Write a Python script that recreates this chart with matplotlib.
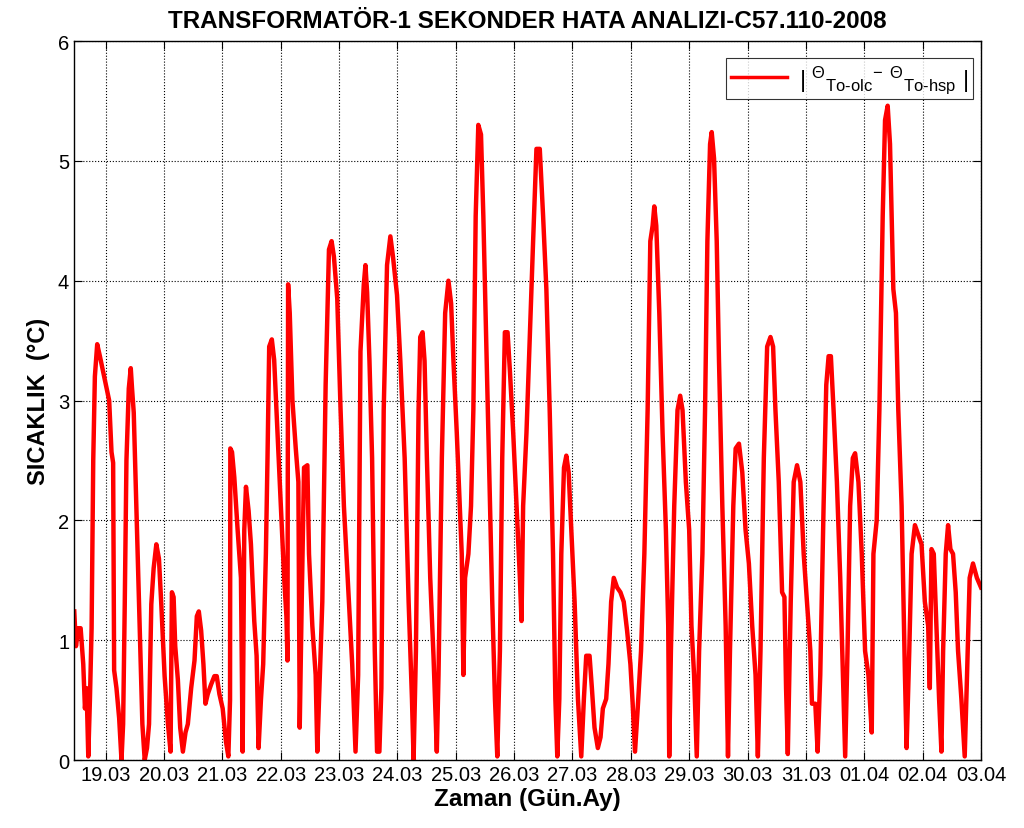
# -*- coding: utf-8 -*-
# Transformator-1 sekonder hata analizi grafigi
import matplotlib
matplotlib.use("Agg")
import matplotlib.pyplot as plt

# Zaman ekseni: Mart gunu (32 = 01.04, 33 = 02.04, 34 = 03.04)
zaman = [
    18.464, 18.493, 18.533, 18.573, 18.618, 18.647, 18.675, 18.704, 18.732, 18.761,
    18.789, 18.817, 18.857, 18.903, 18.988, 19.062, 19.102, 19.130, 19.147, 19.187,
    19.233, 19.273, 19.301, 19.329, 19.358, 19.398, 19.432, 19.454, 19.483, 19.528,
    19.585, 19.631, 19.671, 19.710, 19.745, 19.784, 19.824, 19.870, 19.915, 19.955,
    20.012, 20.069, 20.114, 20.137, 20.166, 20.194, 20.239, 20.279, 20.325, 20.370,
    20.410, 20.467, 20.524, 20.564, 20.598, 20.638, 20.677, 20.712, 20.751, 20.808,
    20.865, 20.905, 20.951, 21.007, 21.064, 21.104, 21.133, 21.138, 21.167, 21.206,
    21.263, 21.320, 21.349, 21.377, 21.406, 21.451, 21.491, 21.548, 21.588, 21.622,
    21.662, 21.701, 21.747, 21.775, 21.804, 21.849, 21.889, 21.946, 22.003, 22.060,
    22.099, 22.117, 22.128, 22.156, 22.202, 22.259, 22.304, 22.327, 22.361, 22.401,
    22.458, 22.486, 22.543, 22.600, 22.628, 22.714, 22.771, 22.828, 22.873, 22.913,
    22.970, 23.027, 23.084, 23.169, 23.226, 23.283, 23.328, 23.368, 23.425, 23.453,
    23.482, 23.522, 23.567, 23.613, 23.652, 23.692, 23.726, 23.766, 23.823, 23.880,
    23.925, 23.994, 24.051, 24.125, 24.193, 24.250, 24.278, 24.318, 24.363, 24.392,
    24.432, 24.466, 24.506, 24.563, 24.619, 24.676, 24.705, 24.762, 24.819, 24.875,
    24.921, 24.961, 25.018, 25.103, 25.131, 25.160, 25.217, 25.262, 25.302, 25.342,
    25.387, 25.433, 25.473, 25.512, 25.569, 25.626, 25.672, 25.712, 25.757, 25.797,
    25.842, 25.888, 25.928, 25.985, 26.042, 26.099, 26.127, 26.155, 26.212, 26.269,
    26.326, 26.383, 26.440, 26.497, 26.553, 26.610, 26.667, 26.707, 26.740, 26.775,
    26.809, 26.855, 26.895, 26.935, 26.980, 27.037, 27.094, 27.151, 27.196, 27.236,
    27.293, 27.333, 27.378, 27.435, 27.481, 27.521, 27.578, 27.617, 27.663, 27.708,
    27.765, 27.822, 27.879, 27.936, 27.993, 28.032, 28.072, 28.118, 28.175, 28.232,
    28.288, 28.334, 28.374, 28.402, 28.436, 28.488, 28.544, 28.601, 28.641, 28.658,
    28.687, 28.744, 28.800, 28.846, 28.886, 28.943, 29.000, 29.039, 29.084, 29.130,
    29.170, 29.227, 29.272, 29.312, 29.358, 29.386, 29.426, 29.472, 29.511, 29.568,
    29.625, 29.665, 29.699, 29.756, 29.796, 29.853, 29.910, 29.966, 30.023, 30.080,
    30.137, 30.177, 30.222, 30.279, 30.336, 30.393, 30.438, 30.478, 30.535, 30.592,
    30.632, 30.660, 30.690, 30.740, 30.791, 30.848, 30.905, 30.962, 31.019, 31.076,
    31.104, 31.161, 31.201, 31.246, 31.303, 31.349, 31.389, 31.428, 31.474, 31.531,
    31.588, 31.645, 31.673, 31.713, 31.758, 31.804, 31.843, 31.900, 31.957, 32.014,
    32.071, 32.128, 32.157, 32.213, 32.259, 32.316, 32.356, 32.401, 32.441, 32.469,
    32.498, 32.543, 32.583, 32.640, 32.697, 32.725, 32.771, 32.811, 32.868, 32.925,
    32.981, 33.038, 33.095, 33.123, 33.152, 33.191, 33.237, 33.282, 33.322, 33.351,
    33.396, 33.436, 33.476, 33.521, 33.567, 33.607, 33.664, 33.721, 33.761, 33.806,
    33.863, 33.930, 34.000,
]

# |Theta_To-olc - Theta_To-hsp| (C)
fark = [
    1.24, 0.95, 1.10, 1.10, 0.80, 0.43, 0.60, 0.03, 0.50, 1.10,
    2.50, 3.20, 3.47, 3.37, 3.17, 3.00, 2.57, 2.48, 0.75, 0.60,
    0.35, 0.00, 0.30, 1.30, 2.50, 3.10, 3.27, 3.10, 2.90, 2.10,
    1.10, 0.30, 0.00, 0.10, 0.30, 1.30, 1.60, 1.80, 1.68, 1.30,
    0.70, 0.30, 0.07, 1.40, 1.36, 0.95, 0.67, 0.27, 0.07, 0.23,
    0.30, 0.60, 0.83, 1.20, 1.24, 1.08, 0.80, 0.47, 0.55, 0.63,
    0.70, 0.70, 0.55, 0.43, 0.15, 0.03, 0.50, 2.60, 2.57, 2.36,
    1.92, 1.52, 0.07, 1.92, 2.28, 2.08, 1.80, 1.16, 0.87, 0.10,
    0.50, 0.80, 1.72, 2.52, 3.45, 3.51, 3.34, 2.73, 2.12, 1.52,
    1.20, 0.83, 3.97, 3.73, 3.00, 2.60, 2.32, 0.27, 1.32, 2.44,
    2.46, 1.72, 1.12, 0.71, 0.07, 1.32, 3.13, 4.26, 4.33, 4.20,
    3.85, 2.92, 2.12, 1.32, 0.80, 0.07, 0.71, 3.41, 3.97, 4.13,
    3.90, 3.33, 2.52, 0.91, 0.07, 0.07, 0.60, 2.92, 4.13, 4.37,
    4.20, 3.88, 3.33, 2.52, 1.32, 0.51, 0.00, 0.91, 2.92, 3.53,
    3.57, 3.33, 2.52, 1.52, 0.87, 0.07, 0.71, 2.52, 3.73, 4.00,
    3.81, 3.33, 2.73, 1.72, 0.71, 1.52, 1.72, 2.12, 2.92, 4.54,
    5.30, 5.22, 4.54, 3.73, 2.52, 1.32, 0.51, 0.03, 0.91, 2.52,
    3.57, 3.57, 3.25, 2.73, 2.12, 1.52, 1.16, 2.12, 2.73, 3.53,
    4.33, 5.10, 5.10, 4.54, 3.93, 2.92, 1.72, 0.51, 0.03, 0.51,
    1.72, 2.44, 2.54, 2.40, 1.92, 1.32, 0.51, 0.03, 0.51, 0.87,
    0.87, 0.60, 0.27, 0.10, 0.19, 0.43, 0.51, 0.80, 1.32, 1.52,
    1.44, 1.40, 1.32, 1.08, 0.80, 0.47, 0.07, 0.43, 0.91, 1.72,
    2.92, 4.33, 4.46, 4.62, 4.46, 3.73, 2.73, 1.92, 1.12, 0.03,
    0.91, 2.12, 2.92, 3.04, 2.92, 2.32, 1.92, 1.12, 0.71, 0.03,
    0.91, 1.72, 2.92, 4.33, 5.14, 5.24, 5.02, 4.33, 3.33, 2.12,
    1.12, 0.03, 0.91, 2.12, 2.60, 2.64, 2.40, 1.92, 1.64, 1.12,
    0.71, 0.03, 0.91, 2.52, 3.45, 3.53, 3.45, 2.92, 2.32, 1.40,
    1.36, 0.60, 0.05, 1.32, 2.32, 2.46, 2.32, 1.72, 1.32, 0.91,
    0.47, 0.47, 0.07, 0.71, 2.12, 3.13, 3.37, 3.37, 2.92, 2.32,
    1.52, 0.51, 0.03, 0.91, 2.12, 2.52, 2.56, 2.32, 1.72, 0.91,
    0.71, 0.23, 1.72, 2.00, 2.92, 4.54, 5.34, 5.46, 5.14, 4.54,
    3.93, 3.73, 2.92, 2.12, 0.71, 0.10, 0.91, 1.72, 1.96, 1.88,
    1.80, 1.32, 1.12, 0.60, 1.76, 1.72, 1.12, 0.51, 0.07, 0.91,
    1.72, 1.96, 1.76, 1.72, 1.40, 0.91, 0.51, 0.03, 0.71, 1.52,
    1.64, 1.52, 1.44,
]

gun_tikleri = list(range(19, 35))
gun_etiketleri = ["19.03", "20.03", "21.03", "22.03", "23.03", "24.03", "25.03",
                  "26.03", "27.03", "28.03", "29.03", "30.03", "31.03",
                  "01.04", "02.04", "03.04"]

plt.rcParams['font.family'] = ['Liberation Sans', 'DejaVu Sans']
plt.rcParams['mathtext.fontset'] = 'custom'
plt.rcParams['mathtext.rm'] = 'Liberation Sans'
plt.rcParams['mathtext.it'] = 'Liberation Sans:italic'
plt.rcParams['mathtext.bf'] = 'Liberation Sans:bold'

fig = plt.figure(figsize=(10.24, 8.29), dpi=100)
ax = fig.add_axes([0.0723, 0.082, 0.8857, 0.8673])

ax.plot(zaman, fark, color='#ff0000', linewidth=3.2, solid_joinstyle='round',
        label=r'| $^{\Theta}$$_{\mathrm{To\text{-}olc}}$$^{-}$ $^{\Theta}$$_{\mathrm{To\text{-}hsp}}$ |')

ax.set_xlim(18.46, 34.0)
ax.set_ylim(0, 6)
ax.set_xticks(gun_tikleri)
ax.set_xticklabels(gun_etiketleri)
ax.set_yticks(range(0, 7))

ax.tick_params(direction='in', top=True, right=True, labelsize=14.5, length=6, width=0.8)
ax.grid(True, color='black', linestyle=':', linewidth=0.8)
for s in ax.spines.values():
    s.set_linewidth(1.0)

ax.set_title("TRANSFORMATÖR-1 SEKONDER HATA ANALIZI-C57.110-2008",
             fontsize=17.5, fontweight='bold', pad=10)
ax.set_xlabel("Zaman (Gün.Ay)", fontsize=17.5, fontweight='bold', labelpad=2)
ax.set_ylabel("SICAKLIK  (°C)", fontsize=17, fontweight='bold', labelpad=6)

leg = ax.legend(loc='upper right', bbox_to_anchor=(0.991, 0.976), borderaxespad=0,
                fontsize=17, fancybox=False, edgecolor='black',
                handlelength=2.4, handletextpad=0.5, borderpad=0.2)
leg.get_frame().set_linewidth(0.8)
leg.get_lines()[0].set_linewidth(2.5)

fig.savefig("out.png", dpi=100)
